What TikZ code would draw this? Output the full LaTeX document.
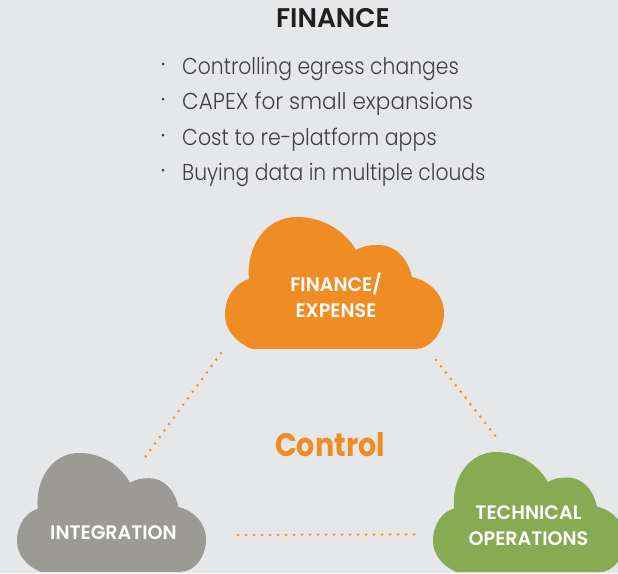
\documentclass[tikz,border=0pt]{standalone}
\usepackage{fontspec}
\setmainfont{Poppins}[UprightFont=* Light,BoldFont=* Medium,FakeStretch=0.9]
\newfontfamily\headfont{Poppins}[UprightFont=* SemiBold,BoldFont=* Bold,FakeStretch=0.98]
\newfontfamily\ctlfont{Poppins}[UprightFont=* Bold,BoldFont=* ExtraBold,FakeStretch=0.88]
\usetikzlibrary{calc}
\definecolor{bgc}{HTML}{E6E7E9}
\definecolor{orangec}{HTML}{F08C24}
\definecolor{grayc}{HTML}{9B9A97}
\definecolor{greenc}{HTML}{86AB52}
\definecolor{textc}{HTML}{414042}
\definecolor{titlec}{HTML}{231F20}
\tikzset{
  cloudtext/.style={text=white,font=\headfont\fontsize{19.5}{26}\selectfont,align=center,inner sep=0pt},
  itemtext/.style={text=textc,font=\fontsize{23}{28}\selectfont,anchor=base west,inner sep=0pt},
  bulletdot/.style={fill=textc,circle,inner sep=0pt,minimum size=3pt},
  dotline/.style={orangec,line width=2.8pt,line cap=round,dash pattern=on 0pt off 8pt},
}
\newcommand{\cloudshape}[4]{%
  \begin{scope}[shift={(#1,#2)},xscale=#3,yscale=#4]
    \fill[cloudfill] (27,132) .. controls (10,125) and (0,112) .. (0,98)
      .. controls (0,80) and (10,66) .. (24,62)
      .. controls (21,30) and (40,0) .. (72,0)
      .. controls (98,0) and (120,14) .. (131,33)
      .. controls (138,29) and (145,28) .. (153,28)
      .. controls (171,28) and (183,42) .. (187,60)
      .. controls (205,64) and (219,78) .. (219,96)
      .. controls (219,116) and (205,132) .. (190,132)
      -- cycle;
  \end{scope}}
\begin{document}
\begin{tikzpicture}[x=1pt,y=-1pt]
\useasboundingbox (0,0) rectangle (618,573);
\clip (0,0) rectangle (618,573);
\fill[bgc] (0,0) rectangle (618,573);
% clouds
\colorlet{cloudfill}{orangec}
\cloudshape{225}{217}{1}{1}
\colorlet{cloudfill}{grayc}
\cloudshape{17}{453}{0.863}{0.9}
\colorlet{cloudfill}{greenc}
\cloudshape{433}{452}{0.877}{0.91}
% labels
\node[cloudtext] (fin) at (336,295) {FINANCE/\\EXPENSE};
\node[cloudtext] (int) at (113.5,533) {INTEGRATION};
\node[cloudtext] (tech) at (528.5,525.5) {TECHNICAL\\OPERATIONS};
% title
\node[inner sep=0pt,text=titlec,font=\headfont\fontsize{27}{30}\selectfont] (title) at (333,18) {FINANCE};
\node[inner sep=0pt,text=orangec,font=\ctlfont\fontsize{32.5}{38}\selectfont] (ctl) at (330,445) {Control};
% list
\foreach \nm/\yy/\fx/\tx in {a/74/0.982/Controlling egress changes,b/109/1.043/CAPEX for small expansions,c/145/0.99/Cost to re-platform apps,d/180/0.98/Buying data in multiple clouds}{
  \node[itemtext] (item\nm) at (182,\yy) {\scalebox{\fx}[1]{\tx}};
  \node[bulletdot] (bul\nm) at (163,\yy-10) {};
}
% connectors
\coordinate (finL) at ($(fin)+(-115,58)$);
\coordinate (intR) at ($(int)+(29.5,-73)$);
\coordinate (finR) at ($(fin)+(100,65)$);
\coordinate (techT) at ($(tech)+(-31.5,-87.5)$);
\coordinate (intE) at ($(int)+(124.5,2)$);
\coordinate (techW) at ($(tech)+(-114.5,9)$);
\draw[dotline] (finL) -- (intR);
\draw[dotline] (finR) -- (techT);
\draw[dotline] (intE) -- (techW);
\end{tikzpicture}
\end{document}
